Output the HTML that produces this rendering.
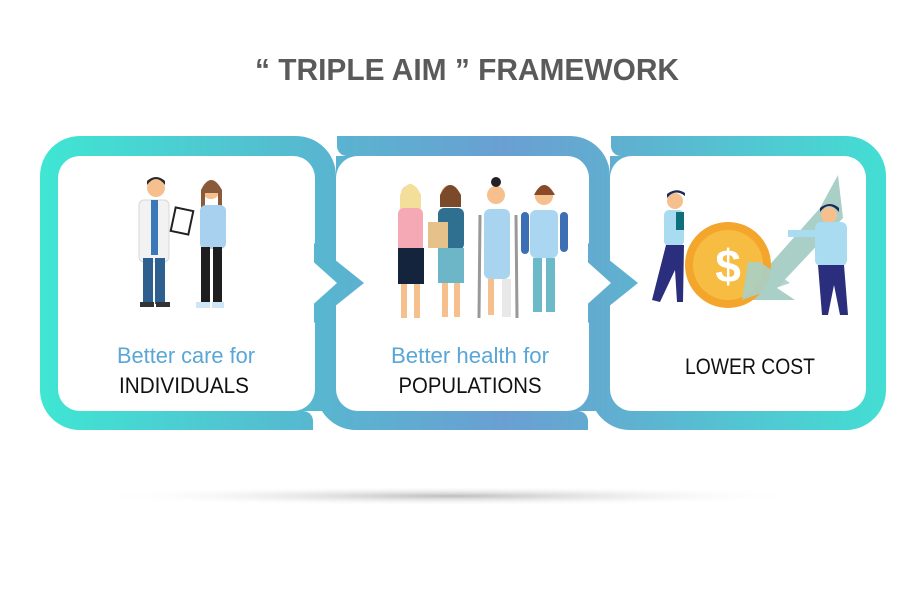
<!DOCTYPE html>
<html><head><meta charset="utf-8"><style>
html,body{margin:0;padding:0;background:#fff;}
svg{display:block;}
</style></head><body>
<svg width="924" height="602" viewBox="0 0 924 602" xmlns="http://www.w3.org/2000/svg">
<defs>
<linearGradient id="g" gradientUnits="userSpaceOnUse" x1="40" y1="0" x2="886" y2="0">
<stop offset="0" stop-color="#3fe6d3"/>
<stop offset="0.33" stop-color="#58b6d0"/>
<stop offset="0.55" stop-color="#6a9fd2"/>
<stop offset="0.66" stop-color="#62acd0"/>
<stop offset="1" stop-color="#43ded3"/>
</linearGradient>
<radialGradient id="sh" cx="0.5" cy="0.5" r="0.5">
<stop offset="0" stop-color="#bdbdbd"/>
<stop offset="1" stop-color="#ffffff" stop-opacity="0"/>
</radialGradient>
</defs>
<text x="467" y="80" text-anchor="middle" font-family="Liberation Sans, sans-serif" font-weight="bold" font-size="31" fill="#5a5a5a" textLength="424" lengthAdjust="spacingAndGlyphs">“ TRIPLE AIM ” FRAMEWORK</text>

<ellipse cx="450" cy="496" rx="360" ry="10" fill="url(#sh)"/>

<path fill="url(#g)" d="M80,136 H296 A40 40 0 0 1 336,176 V411 H303 A10 10 0 0 1 313,421 V430 H80 A40 40 0 0 1 40,390 V176 A40 40 0 0 1 80,136 Z"/>
<path fill="url(#g)" d="M337,136 H570 A40 40 0 0 1 610,176 V411 H578 A10 10 0 0 1 588,421 V430 H356 A40 40 0 0 1 316,390 V200 H336 V156 H347 A10 10 0 0 1 337,146 Z"/>
<path fill="url(#g)" d="M611,136 H846 A40 40 0 0 1 886,176 V390 A40 40 0 0 1 846,430 H630 A40 40 0 0 1 590,390 V200 H610 V156 H621 A10 10 0 0 1 611,146 Z"/>

<rect x="58" y="156" width="257" height="255" rx="22" fill="#fff"/>
<rect x="336" y="156" width="253" height="255" rx="22" fill="#fff"/>
<rect x="610" y="156" width="256" height="255" rx="22" fill="#fff"/>

<polygon fill="url(#g)" points="314,243 364,283 314,323"/>
<polygon fill="url(#g)" points="588,243 638,283 588,323"/>
<polygon fill="#fff" points="308,257 337,283 308,309"/>
<polygon fill="#fff" points="582,257 611,283 582,309"/>

<!-- panel 1 figures -->
<g>
<circle cx="156" cy="188" r="9" fill="#f6c08e"/><path d="M147,185 q9,-12 18,0 v-4 q-9,-8 -18,0z" fill="#2a2a2a"/>
<rect x="139" y="200" width="30" height="62" rx="5" fill="#f2f2f2" stroke="#d8d8d8"/>
<rect x="151" y="200" width="7" height="55" fill="#3a78b8"/>
<rect x="143" y="258" width="10" height="46" fill="#2d5f8f"/><rect x="155" y="258" width="10" height="46" fill="#2d5f8f"/>
<rect x="140" y="302" width="14" height="5" fill="#333"/><rect x="156" y="302" width="14" height="5" fill="#333"/>
<rect x="173" y="209" width="18" height="24" fill="#fff" stroke="#222" stroke-width="2" transform="rotate(12 182 221)"/>
<circle cx="211" cy="190" r="9" fill="#f6c08e"/><path d="M201,190 q10,-20 21,0 v25 h-4 v-22 h-13 v22 h-4z" fill="#8a5a3a"/>
<rect x="200" y="205" width="26" height="44" rx="6" fill="#a8d0ef"/>
<rect x="201" y="247" width="9" height="56" fill="#1e1e1e"/><rect x="213" y="247" width="9" height="56" fill="#1e1e1e"/>
<rect x="196" y="302" width="14" height="6" fill="#cfe6f7"/><rect x="212" y="302" width="12" height="6" fill="#cfe6f7"/>
</g>
<!-- panel 2 figures -->
<g>
<circle cx="410" cy="194" r="9" fill="#f6c08e"/><path d="M400,195 q10,-22 21,0 v15 h-21z" fill="#f3df9a"/>
<rect x="398" y="208" width="25" height="45" rx="6" fill="#f4a9b5"/><rect x="398" y="248" width="26" height="36" fill="#14243c"/>
<rect x="401" y="284" width="6" height="34" fill="#f6c08e"/><rect x="414" y="284" width="6" height="34" fill="#f6c08e"/>
<circle cx="450" cy="194" r="9" fill="#f6c08e"/><path d="M440,195 q10,-20 21,0 v12 h-21z" fill="#7a4a2a"/>
<rect x="438" y="208" width="26" height="42" rx="6" fill="#2f6f8f"/><rect x="428" y="222" width="20" height="26" fill="#e7c18a"/>
<rect x="438" y="248" width="26" height="35" fill="#6cb6c8"/>
<rect x="442" y="283" width="6" height="34" fill="#f6c08e"/><rect x="454" y="283" width="6" height="34" fill="#f6c08e"/>
<circle cx="496" cy="195" r="9" fill="#f6c08e"/><circle cx="496" cy="182" r="5" fill="#222"/>
<rect x="484" y="209" width="26" height="70" rx="6" fill="#a9d4f0"/>
<line x1="480" y1="215" x2="479" y2="318" stroke="#999" stroke-width="3"/><line x1="516" y1="215" x2="517" y2="318" stroke="#999" stroke-width="3"/>
<rect x="488" y="279" width="6" height="36" fill="#f6c08e"/><rect x="502" y="279" width="9" height="38" fill="#e8e8e8"/>
<circle cx="544" cy="196" r="9" fill="#f6c08e"/><path d="M534,195 q10,-20 21,0z" fill="#8a4a2a"/>
<rect x="530" y="210" width="28" height="48" rx="6" fill="#aad6f2"/>
<rect x="521" y="212" width="8" height="42" rx="4" fill="#3c6fb4"/><rect x="560" y="212" width="8" height="40" rx="4" fill="#3c6fb4"/>
<rect x="533" y="258" width="9" height="54" fill="#6cb9c8"/><rect x="546" y="258" width="9" height="54" fill="#6cb9c8"/>
</g>
<!-- panel 3 -->
<g>
<polygon fill="#a9cfc6" points="838,175 843,218 777,288 795,300 742,300 752,258 765,270 820,208 838,175"/>
<circle cx="728" cy="265" r="43" fill="#f4a52b"/>
<circle cx="728" cy="265" r="35" fill="#f7bd43"/>
<text x="728" y="282" text-anchor="middle" font-family="Liberation Sans, sans-serif" font-weight="bold" font-size="46" fill="#fff">$</text>
<polygon fill="#a9cfc6" points="760,262 790,283 742,300 748,262" opacity="0.9"/>
<circle cx="675" cy="201" r="8" fill="#f6c08e"/><path d="M667,198 q8,-10 18,-2 v-3 q-9,-6 -18,1z" fill="#1e2a5a"/>
<rect x="664" y="210" width="20" height="36" rx="5" fill="#a9dcf0"/><rect x="676" y="212" width="8" height="18" fill="#0f6f7a"/>
<polygon fill="#2a2e7c" points="666,245 684,245 683,302 677,302 675,270 660,302 652,300"/>
<circle cx="829" cy="215" r="8" fill="#f6c08e"/><path d="M820,212 q9,-12 19,0 v-4 q-9,-8 -19,0z" fill="#1e2a5a"/>
<rect x="815" y="222" width="32" height="44" rx="6" fill="#a9dcf0"/>
<rect x="788" y="230" width="30" height="7" fill="#a9dcf0"/>
<polygon fill="#2a2e7c" points="818,265 844,265 848,315 840,315 834,285 828,315 822,315"/>
</g>

<g font-family="Liberation Sans, sans-serif" font-size="22" text-anchor="middle">
<text x="186" y="363" fill="#5aa6d6" textLength="138" lengthAdjust="spacingAndGlyphs">Better care for</text>
<text x="184" y="393" fill="#111" textLength="130" lengthAdjust="spacingAndGlyphs">INDIVIDUALS</text>
<text x="470" y="363" fill="#5aa6d6" textLength="158" lengthAdjust="spacingAndGlyphs">Better health for</text>
<text x="470" y="393" fill="#111" textLength="143" lengthAdjust="spacingAndGlyphs">POPULATIONS</text>
<text x="750" y="374" fill="#111" textLength="130" lengthAdjust="spacingAndGlyphs">LOWER COST</text>
</g>
</svg>
</body></html>
